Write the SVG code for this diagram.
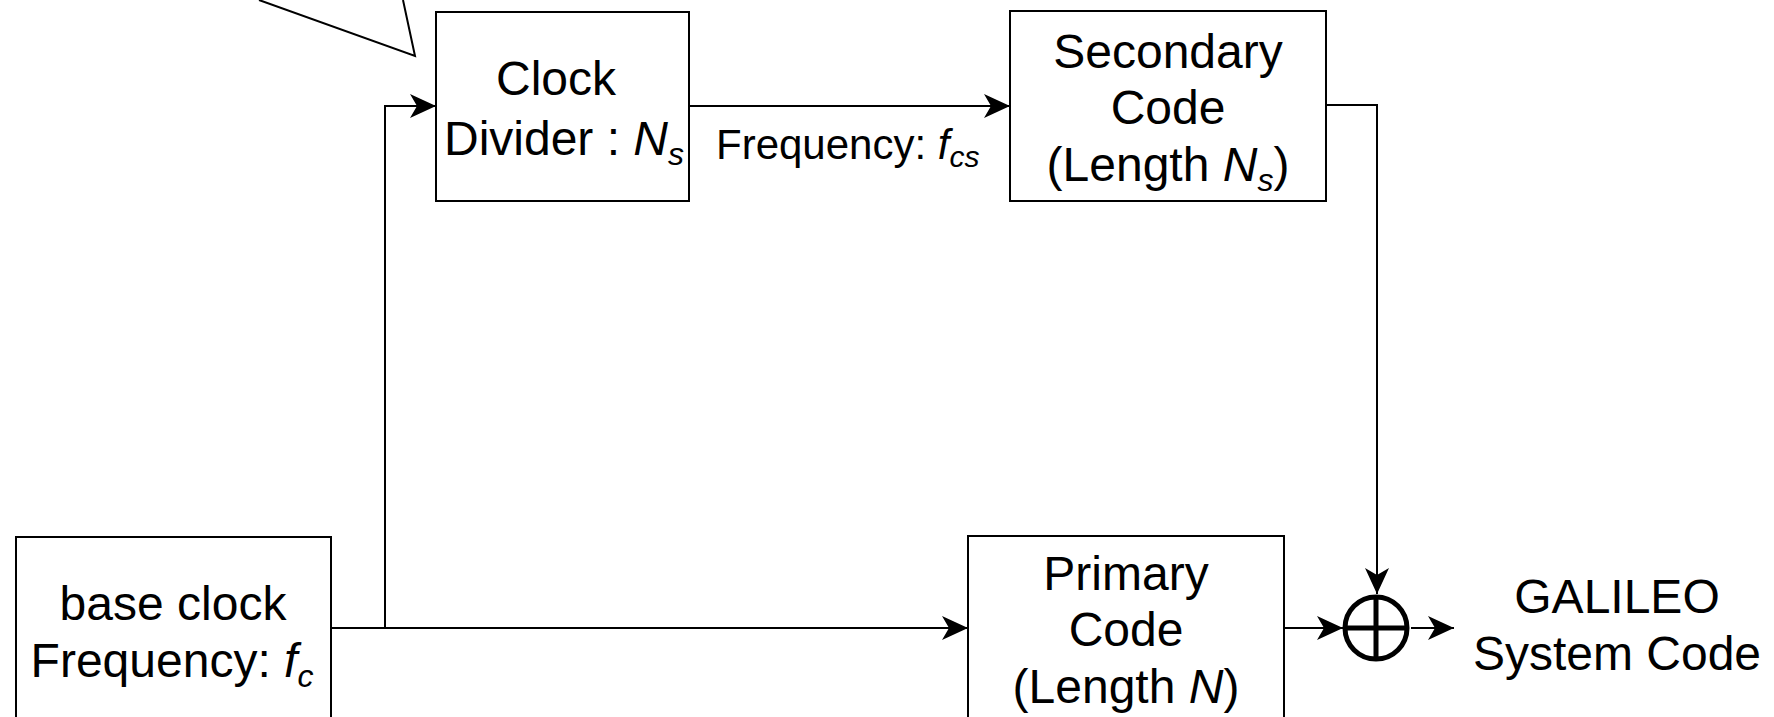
<svg xmlns="http://www.w3.org/2000/svg" width="1774" height="717" viewBox="0 0 1774 717">
<style>
.box{fill:#fff;stroke:#000;stroke-width:2}
.w{fill:none;stroke:#000;stroke-width:2}
.t{font-family:"Liberation Sans",Arial,Helvetica,sans-serif;font-size:48px;fill:#000;text-anchor:middle}
.s{font-family:"Liberation Sans",Arial,Helvetica,sans-serif;font-size:42px;fill:#000}
.i{font-style:italic}
</style>
<defs>
<marker id="arr" markerUnits="userSpaceOnUse" markerWidth="27" markerHeight="24" refX="26" refY="12" orient="auto" viewBox="0 0 27 24">
<path d="M0,0 L26,12 L0,24 L7,12 Z" fill="#000"/>
</marker>
</defs>
<rect width="1774" height="717" fill="#fff"/>
<g id="callout">
<path d="M259,0 L415,56 L403,0" fill="#fff" stroke="#000" stroke-width="2"/>
</g>
<g id="connectors">
<path class="w" d="M331,628 L968,628" marker-end="url(#arr)"/>
<path class="w" d="M385,628 L385,106 L436,106" marker-end="url(#arr)"/>
<path class="w" d="M689,106 L1010,106" marker-end="url(#arr)"/>
<path class="w" d="M1326,105 L1377,105 L1377,594" marker-end="url(#arr)"/>
<path class="w" d="M1284,628 L1343,628" marker-end="url(#arr)"/>
<path class="w" d="M1411,628 L1454,628" marker-end="url(#arr)"/>
</g>
<g id="clock-divider">
<rect class="box" x="436" y="12" width="253" height="189"/>
<text class="t" x="556" y="95">Clock</text>
<text class="t" x="564" y="155">Divider : <tspan class="i">N</tspan><tspan class="i" font-size="32" dy="10">s</tspan></text>
</g>
<text class="s" x="716" y="159">Frequency: <tspan class="i">f</tspan><tspan class="i" font-size="30" dy="8">cs</tspan></text>
<g id="secondary-code">
<rect class="box" x="1010" y="11" width="316" height="190"/>
<text class="t" x="1168" y="68">Secondary</text>
<text class="t" x="1168" y="124">Code</text>
<text class="t" x="1168" y="181">(Length <tspan class="i">N</tspan><tspan class="i" font-size="32" dy="10">s</tspan><tspan dy="-10">)</tspan></text>
</g>
<g id="base-clock">
<rect class="box" x="16" y="537" width="315" height="200"/>
<text class="t" x="173" y="620">base clock</text>
<text class="t" x="172" y="677">Frequency: <tspan class="i">f</tspan><tspan class="i" font-size="32" dy="10">c</tspan></text>
</g>
<g id="primary-code">
<rect class="box" x="968" y="536" width="316" height="200"/>
<text class="t" x="1126" y="590">Primary</text>
<text class="t" x="1126" y="646">Code</text>
<text class="t" x="1126" y="703">(Length <tspan class="i">N</tspan>)</text>
</g>
<g id="xor">
<circle cx="1376" cy="628" r="31" fill="#fff" stroke="#000" stroke-width="5"/>
<path d="M1345,628 L1407,628 M1376,597 L1376,659" stroke="#000" stroke-width="5"/>
</g>
<g id="output">
<text class="t" x="1617" y="613">GALILEO</text>
<text class="t" x="1617" y="670">System Code</text>
</g>
</svg>
